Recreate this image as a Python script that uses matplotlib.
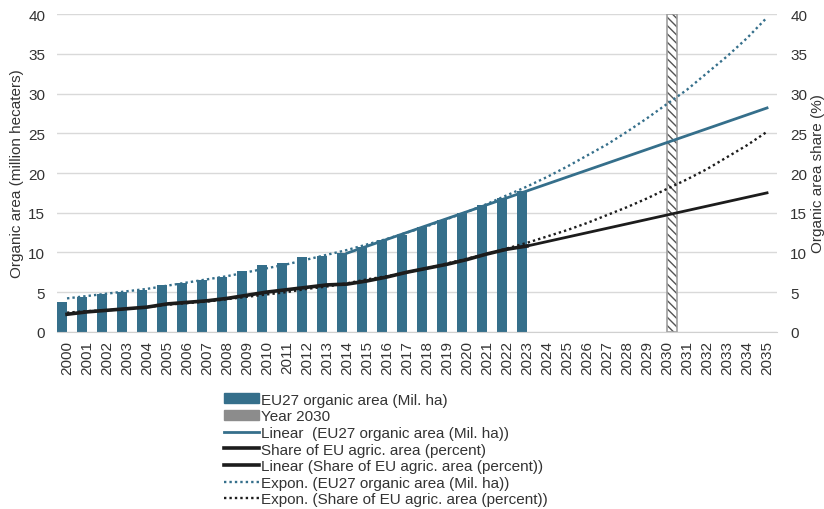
import matplotlib
matplotlib.use('Agg')
import matplotlib.pyplot as plt
from matplotlib.patches import Patch
from matplotlib.lines import Line2D

plt.rcParams['font.family'] = ['Liberation Sans', 'DejaVu Sans']

# bars: EU27 organic area (million ha)
years = list(range(2000, 2036))
bar_years = list(range(2000, 2024))
organic_area = [3.7, 4.4, 4.7, 5.0, 5.3, 5.9, 6.1, 6.5, 6.9, 7.6, 8.4, 8.7,
                9.4, 9.5, 9.9, 10.7, 11.5, 12.2, 13.2, 14.1, 14.9, 16.0, 16.8, 17.7]

# share of EU agricultural area (percent)
share = [2.2, 2.5, 2.7, 2.9, 3.1, 3.5, 3.7, 3.9, 4.2, 4.6, 5.0, 5.3,
         5.6, 5.9, 6.0, 6.4, 6.9, 7.5, 8.0, 8.5, 9.1, 9.8, 10.4, 10.8]

# trend lines
lin_area_years = [2014, 2035]
lin_area = [9.9, 28.2]
lin_share_years = [2023, 2035]
lin_share = [10.8, 17.5]
exp_area = [4.2, 4.5, 4.8, 5.1, 5.4, 5.8, 6.2, 6.6, 7.0, 7.5, 8.0, 8.5,
            9.1, 9.7, 10.3, 11.0, 11.7, 12.5, 13.3, 14.2, 15.1, 16.1, 17.2, 18.3,
            19.5, 20.8, 22.2, 23.6, 25.2, 26.9, 28.7, 30.5, 32.6, 34.7, 37.0, 39.6]
exp_share = [2.4, 2.6, 2.7, 2.9, 3.1, 3.4, 3.6, 3.8, 4.1, 4.4, 4.7, 5.0,
             5.4, 5.7, 6.1, 6.6, 7.0, 7.5, 8.0, 8.6, 9.2, 9.8, 10.5, 11.2,
             12.0, 12.8, 13.7, 14.7, 15.7, 16.8, 18.0, 19.2, 20.5, 22.0, 23.5, 25.2]

target_year = [2030]
target_height = [40]

blue = '#356f8b'
black = '#1c1c1c'
txt = '#333333'

fig = plt.figure(figsize=(8.24, 5.10), dpi=100)
ax = fig.add_axes([0.0692, 0.3476, 0.8738, 0.6224])
ax2 = ax.twinx()

ax.bar([y - 0.25 for y in bar_years], organic_area, width=0.47, color=blue, zorder=2)
# hatched 2030 bar
ax.bar([y + 0.25 for y in target_year], target_height, width=0.5, facecolor='white',
       edgecolor='#555555', hatch='\\\\\\\\', linewidth=0, zorder=2)
ax.bar([y + 0.25 for y in target_year], target_height, width=0.5, fill=False,
       edgecolor='#a0a0a0', linewidth=1.2, zorder=2)

ax.plot(lin_area_years, lin_area, color=blue, lw=2.0, zorder=3)
ax.plot(years, exp_area, color=blue, lw=1.7, ls=(0, (1, 1.3)), zorder=3)

ax2.plot(bar_years, share, color=black, lw=2.6, zorder=3)
ax2.plot(lin_share_years, lin_share, color=black, lw=2.0, zorder=3)
ax2.plot(years, exp_share, color=black, lw=1.7, ls=(0, (1, 1.3)), zorder=3)

for a in (ax, ax2):
    a.set_ylim(0, 40)
    a.set_yticks(range(0, 41, 5))
    a.set_xlim(1999.5, 2035.5)
    for s in a.spines.values():
        s.set_visible(False)
    a.tick_params(length=0, labelsize=11, colors=txt)

ax.spines['bottom'].set_visible(True)
ax.spines['bottom'].set_color('#d0d0d0')
ax.yaxis.grid(True, color='#d9d9d9', lw=1.0)
ax.set_axisbelow(True)
ax.set_xticks(years)
ax.set_xticklabels([str(y) for y in years], rotation=90)
ax.tick_params(axis='x', pad=6)
ax.tick_params(axis='y', pad=8.5)
ax2.tick_params(axis='y', pad=9.5)

ax.set_ylabel('Organic area (million hecaters)', fontsize=11, color=txt, labelpad=3)
ax2.set_ylabel('Organic area share (%)', fontsize=11, color=txt, labelpad=3)

handles = [
    Patch(color=blue),
    Patch(color='#8c8c8c'),
    Line2D([], [], color=blue, lw=2.0),
    Line2D([], [], color=black, lw=2.6),
    Line2D([], [], color=black, lw=2.6),
    Line2D([], [], color=blue, lw=1.7, ls=(0, (1, 1.3))),
    Line2D([], [], color=black, lw=1.7, ls=(0, (1, 1.3))),
]
labels = [
    'EU27 organic area (Mil. ha)',
    'Year 2030',
    'Linear  (EU27 organic area (Mil. ha))',
    'Share of EU agric. area (percent)',
    'Linear (Share of EU agric. area (percent))',
    'Expon. (EU27 organic area (Mil. ha))',
    'Expon. (Share of EU agric. area (percent))',
]
leg = fig.legend(handles, labels, loc='upper left', bbox_to_anchor=(0.272, 0.228),
                 frameon=False, fontsize=11, borderpad=0, borderaxespad=0,
                 labelspacing=0.17, handlelength=2.3, handletextpad=0.1,
                 handleheight=0.6)
for t in leg.get_texts():
    t.set_color(txt)

fig.savefig('out.png', dpi=100)
